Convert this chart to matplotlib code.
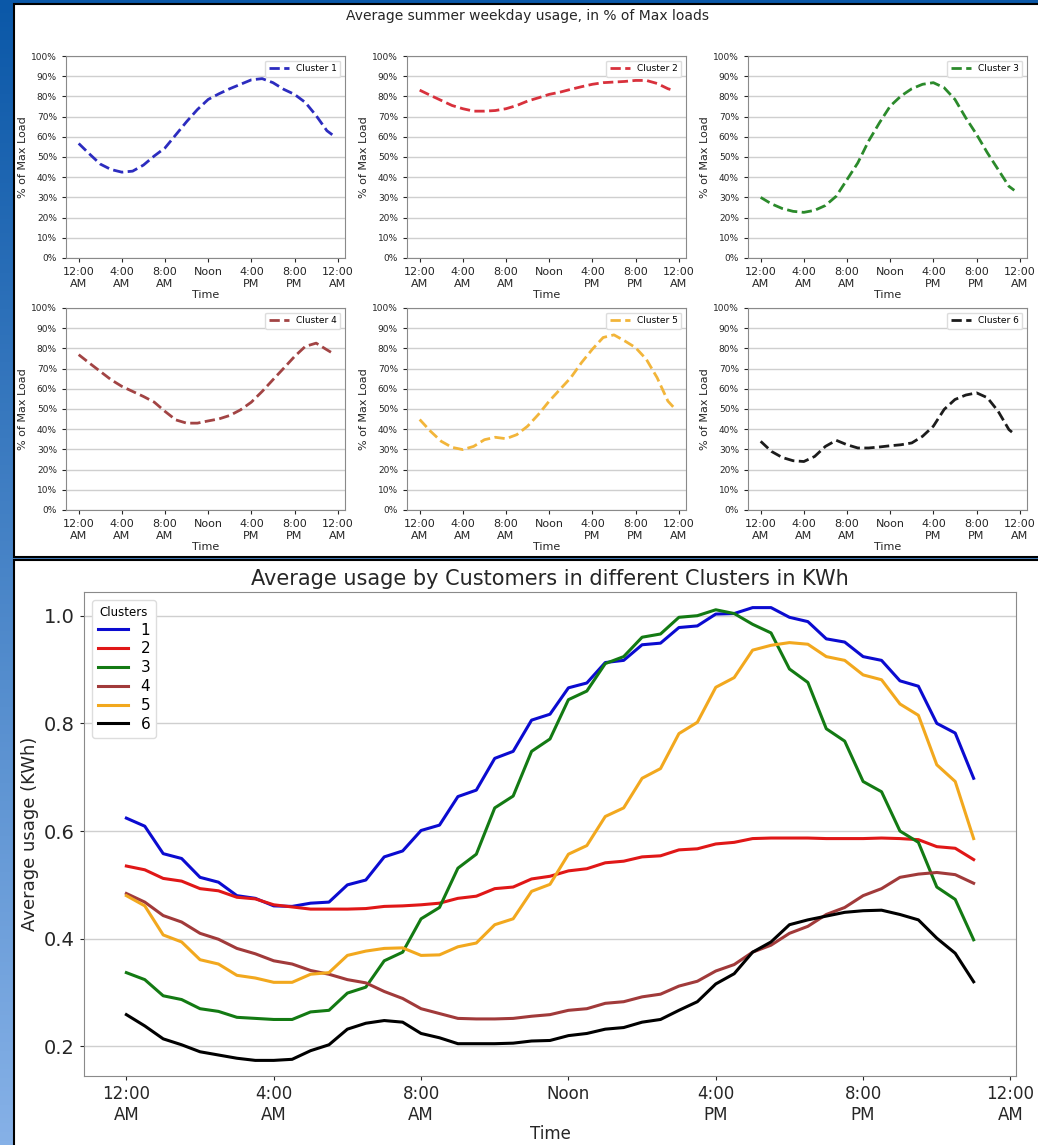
import numpy as np
import matplotlib
matplotlib.use('Agg')
import matplotlib.pyplot as plt
from matplotlib.patches import Rectangle
from matplotlib.colors import LinearSegmentedColormap
from matplotlib.ticker import PercentFormatter

# picture size in pixels
W, H = 1038, 1145

# x axis labels shared by all charts
tick_hours = [0, 4, 8, 12, 16, 20, 24]
tick_labels = ['12:00\nAM', '4:00\nAM', '8:00\nAM', 'Noon', '4:00\nPM', '8:00\nPM', '12:00\nAM']

# top panel: % of max load, read hourly (last point at 23:30)
hours_top = list(range(24)) + [23.5]
pct_c1 = [56.7, 51.5, 46.5, 43.8, 42.5, 43, 46, 50.5, 54.5, 61, 67.5, 73.5,
          78.5, 81.3, 83.8, 86, 88.2, 88.8, 86.8, 83.5, 81, 77, 70.5, 63, 61]
pct_c2 = [83.1, 80.5, 78, 75.5, 73.9, 72.7, 72.7, 73, 73.9, 75.5, 77.7, 79.3,
          81, 82.1, 83.5, 84.8, 86, 86.8, 87.1, 87.4, 87.9, 87.9, 86.4, 83.8, 83]
pct_c3 = [30, 26.8, 24.5, 23.1, 22.6, 23.6, 26, 30.6, 38.8, 47.1, 57.9, 66.9,
          75.2, 80.2, 83.8, 86, 86.8, 84.3, 78.5, 69.4, 61.2, 52.1, 43.8, 35.5, 33.5]
pct_c4 = [76.9, 72.7, 68.6, 64.5, 61.2, 58.7, 56.2, 53.4, 48.8, 44.6, 43, 43,
          44.1, 45.1, 46.8, 49.6, 53.4, 58.7, 64.5, 70.2, 76, 81, 82.6, 79.3, 77.7]
pct_c5 = [44.8, 39, 34, 31, 29.9, 31.5, 34.8, 36, 35.3, 37.3, 41.5, 47.3,
          53.9, 59.7, 65.5, 73, 79.6, 85.4, 86.7, 83.7, 80.4, 74.6, 65.5, 53.9, 51]
pct_c6 = [34, 29, 26, 24.4, 24, 26.5, 31.5, 34.5, 32.3, 30.7, 30.7, 31.2,
          31.8, 32.3, 33.2, 36.5, 41.5, 49.8, 54.7, 56.9, 58, 55.6, 48.9, 39.8, 37.6]

# bottom panel: average kWh, every half hour from 0:00 to 23:00
hours_bot = np.arange(0, 23.5, 0.5)
kwh_c1 = [0.624, 0.609, 0.558, 0.549, 0.514, 0.505, 0.480, 0.475, 0.461, 0.460,
          0.466, 0.468, 0.500, 0.509, 0.552, 0.563, 0.601, 0.611, 0.664, 0.676,
          0.735, 0.748, 0.806, 0.817, 0.866, 0.875, 0.913, 0.917, 0.946, 0.949,
          0.978, 0.981, 1.003, 1.004, 1.015, 1.015, 0.997, 0.989, 0.957, 0.951,
          0.924, 0.917, 0.879, 0.869, 0.800, 0.782, 0.698]
kwh_c2 = [0.535, 0.528, 0.512, 0.507, 0.493, 0.489, 0.477, 0.474, 0.463, 0.459,
          0.455, 0.455, 0.455, 0.456, 0.460, 0.461, 0.463, 0.466, 0.475, 0.479,
          0.493, 0.496, 0.511, 0.516, 0.526, 0.530, 0.541, 0.544, 0.552, 0.554,
          0.565, 0.567, 0.576, 0.579, 0.586, 0.587, 0.587, 0.587, 0.586, 0.586,
          0.586, 0.587, 0.586, 0.584, 0.571, 0.568, 0.547]
kwh_c3 = [0.337, 0.324, 0.294, 0.287, 0.270, 0.265, 0.254, 0.252, 0.250, 0.250,
          0.264, 0.267, 0.299, 0.310, 0.359, 0.375, 0.437, 0.458, 0.531, 0.557,
          0.643, 0.665, 0.748, 0.771, 0.844, 0.860, 0.911, 0.924, 0.960, 0.966,
          0.997, 1.000, 1.011, 1.004, 0.984, 0.968, 0.901, 0.876, 0.790, 0.767,
          0.692, 0.673, 0.600, 0.579, 0.496, 0.473, 0.398]
kwh_c4 = [0.484, 0.468, 0.443, 0.431, 0.410, 0.399, 0.382, 0.372, 0.359, 0.353,
          0.341, 0.334, 0.324, 0.318, 0.302, 0.289, 0.270, 0.261, 0.252, 0.251,
          0.251, 0.252, 0.256, 0.259, 0.267, 0.270, 0.280, 0.283, 0.292, 0.297,
          0.312, 0.321, 0.340, 0.352, 0.375, 0.388, 0.410, 0.423, 0.445, 0.458,
          0.480, 0.493, 0.514, 0.520, 0.523, 0.519, 0.503]
kwh_c5 = [0.480, 0.461, 0.407, 0.394, 0.361, 0.353, 0.332, 0.327, 0.319, 0.319,
          0.334, 0.337, 0.369, 0.377, 0.382, 0.383, 0.369, 0.370, 0.385, 0.392,
          0.426, 0.437, 0.488, 0.501, 0.557, 0.573, 0.627, 0.643, 0.698, 0.716,
          0.781, 0.802, 0.867, 0.885, 0.936, 0.945, 0.950, 0.947, 0.924, 0.917,
          0.890, 0.881, 0.836, 0.815, 0.723, 0.692, 0.586]
kwh_c6 = [0.259, 0.238, 0.214, 0.203, 0.190, 0.184, 0.178, 0.174, 0.174, 0.176,
          0.192, 0.203, 0.232, 0.243, 0.248, 0.245, 0.224, 0.216, 0.205, 0.205,
          0.205, 0.206, 0.210, 0.211, 0.220, 0.224, 0.232, 0.235, 0.245, 0.250,
          0.267, 0.283, 0.316, 0.335, 0.375, 0.394, 0.426, 0.435, 0.442, 0.449,
          0.452, 0.453, 0.445, 0.435, 0.401, 0.373, 0.320]

top_colors = ['#2c2cbf', '#d8313c', '#2b8a2b', '#a24444', '#f2b53a', '#1c1c1c']
bot_colors = ['#0b0bd0', '#e01717', '#137a13', '#a13a3a', '#f2a81e', '#000000']

TEXT = '#262626'
SPINE = '#8a8a8a'
GRID = '#cfcfcf'


def px_axes(left, top, right, bottom):
    # axes from pixel box (y measured from the top)
    return fig.add_axes([left / W, 1 - bottom / H, (right - left) / W, (bottom - top) / H])


def style_axes(ax, xsize, ysize):
    ax.set_xticks(tick_hours)
    ax.set_xticklabels(tick_labels)
    ax.tick_params(axis='x', labelsize=xsize, colors=TEXT, length=3)
    ax.tick_params(axis='y', labelsize=ysize, colors=TEXT, length=3)
    ax.grid(axis='y', color=GRID, lw=1)
    ax.set_axisbelow(True)
    for s in ax.spines.values():
        s.set_color(SPINE)


fig = plt.figure(figsize=(W / 100, H / 100), dpi=100)

# blue slide background with two white panels
bg = fig.add_axes([0, 0, 1, 1])
grad = np.linspace(0, 1, 256).reshape(-1, 1)
cmap = LinearSegmentedColormap.from_list('bg', ['#0b58a8', '#86b1e7'])
bg.imshow(grad, cmap=cmap, extent=[0, W, H, 0], aspect='auto')
bg.add_patch(Rectangle((14, 4), W, 553, fc='white', ec='black', lw=1.5))
bg.add_patch(Rectangle((14, 560), W, 600, fc='white', ec='black', lw=1.5))
bg.set_xlim(0, W)
bg.set_ylim(H, 0)
bg.axis('off')

fig.text(527 / W, 1 - 16 / H, 'Average summer weekday usage, in % of Max loads',
         ha='center', va='center', fontsize=10, color=TEXT)

# small multiples
top_series = [pct_c1, pct_c2, pct_c3, pct_c4, pct_c5, pct_c6]
col_left = [66, 407, 748]
row_top = [56, 308]
for i, vals in enumerate(top_series):
    r, c = divmod(i, 3)
    ax = px_axes(col_left[c], row_top[r], col_left[c] + 279, row_top[r] + 202)
    ax.plot(hours_top, np.array(vals) / 100, ls='--', lw=2, color=top_colors[i],
            label='Cluster %d' % (i + 1))
    ax.set_ylim(0, 1)
    ax.set_yticks(np.arange(0, 1.01, 0.1))
    ax.yaxis.set_major_formatter(PercentFormatter(1, decimals=0))
    style_axes(ax, 8, 6.5)
    ax.set_xlabel('Time', fontsize=8, color=TEXT, labelpad=1)
    ax.set_ylabel('% of Max Load', fontsize=8, color=TEXT, labelpad=2)
    ax.legend(loc='upper right', fontsize=6.5, handlelength=2.2, framealpha=1,
              edgecolor='#dddddd')

# big chart
bot_series = [kwh_c1, kwh_c2, kwh_c3, kwh_c4, kwh_c5, kwh_c6]
ax = px_axes(84, 592, 1016, 1076)
for i, vals in enumerate(bot_series):
    ax.plot(hours_bot, vals, lw=2.2, color=bot_colors[i], label=str(i + 1))
ax.set_ylim(0.145, 1.044)
ax.set_yticks([0.2, 0.4, 0.6, 0.8, 1.0])
style_axes(ax, 12, 14)
ax.set_title('Average usage by Customers in different Clusters in KWh',
             fontsize=15, color=TEXT, pad=5)
ax.set_xlabel('Time', fontsize=12, color=TEXT, labelpad=1)
ax.set_ylabel('Average usage (KWh)', fontsize=13, color=TEXT)
leg = ax.legend(loc='upper left', title='Clusters', fontsize=11, title_fontsize=8.5,
                handlelength=2.0, framealpha=1, edgecolor='#dddddd',
                labelspacing=0.25)

fig.savefig('out.png', dpi=100)
